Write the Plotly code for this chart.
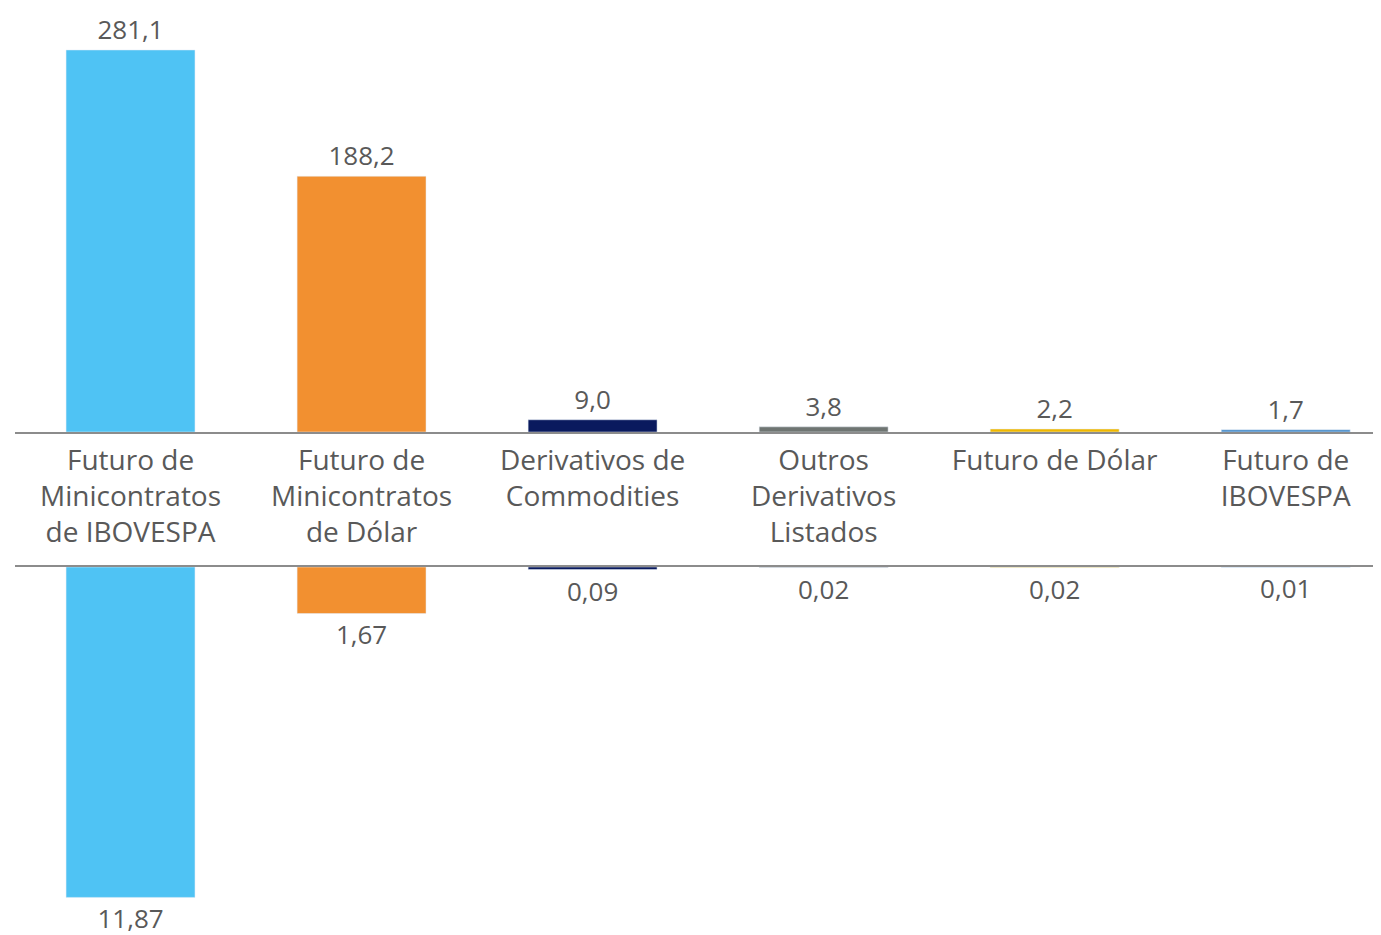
import plotly.graph_objects as go

categories = ["Futuro de<br>Minicontratos<br>de IBOVESPA", "Futuro de<br>Minicontratos<br>de Dólar",
              "Derivativos de<br>Commodities", "Outros<br>Derivativos<br>Listados",
              "Futuro de Dólar", "Futuro de<br>IBOVESPA"]
top_values = [281.1, 188.2, 9.0, 3.8, 2.2, 1.7]
bottom_values = [11.87, 1.67, 0.09, 0.02, 0.02, 0.01]
colors = ["#4FC3F4", "#F29030", "#0A1A5E", "#6F7572", "#F0B800", "#4C8FCB"]

# page body has an 8px margin; figure sized to fit the window
W, H = 1381, 927
FONT = "Open Sans"
TXT = "#595959"

fig = go.Figure()
x = list(range(len(categories)))
fig.add_trace(go.Bar(x=x, y=top_values, marker_color=colors, width=0.558,
                     texttemplate="%{y:.1f}", textposition="outside",
                     textfont=dict(size=26, color=TXT, family=FONT),
                     cliponaxis=False, xaxis="x", yaxis="y"))
fig.add_trace(go.Bar(x=x, y=bottom_values, marker_color=colors, width=0.558,
                     texttemplate="%{y:.2f}", textposition="outside",
                     textfont=dict(size=26, color=TXT, family=FONT),
                     cliponaxis=False, xaxis="x2", yaxis="y2"))

xr = [-0.5, 5.447]
fig.update_layout(
    width=W, height=H, margin=dict(l=7, r=0, t=0, b=0),
    plot_bgcolor="white", paper_bgcolor="white",
    showlegend=False, separators=",.",
    font=dict(family=FONT, color=TXT),
    xaxis=dict(domain=[0, 1], range=xr, anchor="y", tickmode="array", tickvals=x, ticktext=categories,
               showline=True, linecolor="#8C8C8C", linewidth=2, ticks="", showgrid=False, zeroline=False,
               tickfont=dict(size=28, color=TXT, family=FONT), ticklabelstandoff=2),
    yaxis=dict(domain=[(H - 424) / H, 1], range=[0, 312.0], visible=False, showgrid=False),
    xaxis2=dict(domain=[0, 1], range=xr, anchor="y2", side="top", showline=True, linecolor="#8C8C8C",
                linewidth=2, showticklabels=False, ticks="", showgrid=False, zeroline=False),
    yaxis2=dict(domain=[0, (H - 559) / H], range=[13.22, 0], visible=False, showgrid=False),
)
fig.write_html("out.html")
